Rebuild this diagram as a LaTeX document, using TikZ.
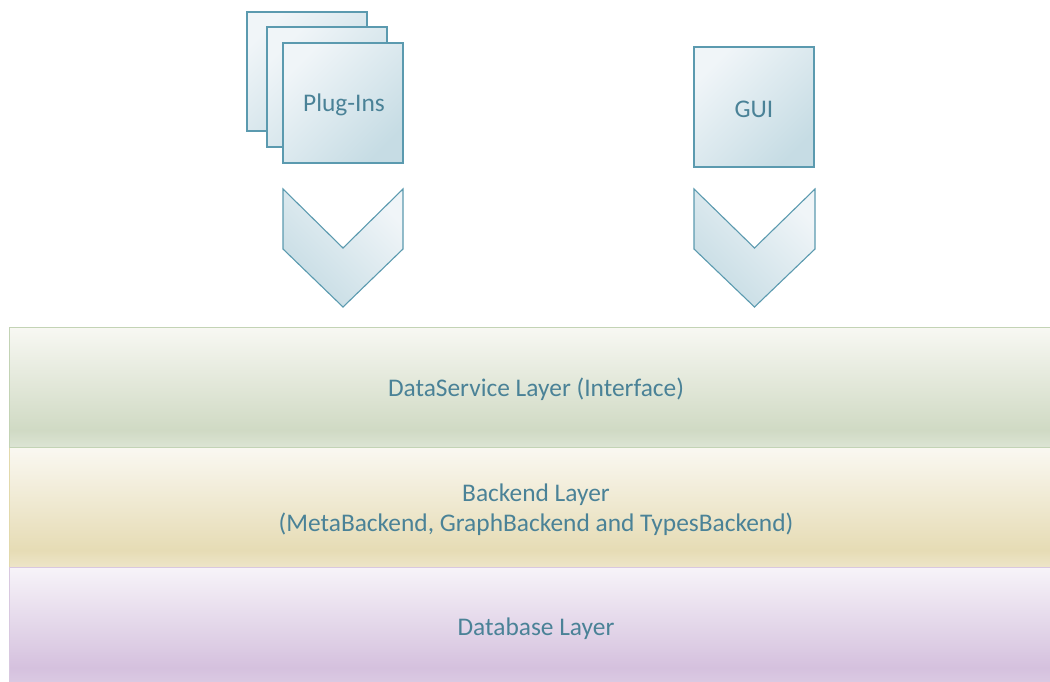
\documentclass[tikz,border=0pt]{standalone}
\usepackage{fontspec}
\setmainfont{Carlito}
\definecolor{edgeblue}{HTML}{5B9AAF}
\definecolor{boxlight}{HTML}{F0F5F8}
\definecolor{boxdark}{HTML}{C6DCE4}
\definecolor{txtblue}{HTML}{4A8297}
\definecolor{gA}{HTML}{F8F8F3}
\definecolor{gB}{HTML}{D0DAC4}
\definecolor{gC}{HTML}{DCE4D4}
\definecolor{gEdge}{HTML}{C3D3B5}
\definecolor{yA}{HTML}{FAF8F2}
\definecolor{yB}{HTML}{E6DCB5}
\definecolor{yC}{HTML}{EDE5C8}
\definecolor{yEdge}{HTML}{E2D9AC}
\definecolor{pA}{HTML}{F7F4F9}
\definecolor{pB}{HTML}{D5C1DE}
\definecolor{pC}{HTML}{DCCCE4}
\definecolor{pEdge}{HTML}{D8C8E0}
\pgfdeclareverticalshading{greenshade}{100bp}{color(0bp)=(gC); color(25bp)=(gC); color(32bp)=(gB); color(75bp)=(gA); color(100bp)=(gA)}
\pgfdeclareverticalshading{yellowshade}{100bp}{color(0bp)=(yC); color(25bp)=(yC); color(32bp)=(yB); color(75bp)=(yA); color(100bp)=(yA)}
\pgfdeclareverticalshading{purpleshade}{100bp}{color(0bp)=(pC); color(25bp)=(pC); color(33bp)=(pB); color(75bp)=(pA); color(100bp)=(pA)}
\tikzset{
  sq/.style={draw=edgeblue, line width=1.1pt, top color=boxlight, bottom color=boxdark, shading angle=45},
  chev/.style={draw=edgeblue, line width=1.1pt, top color=boxlight, bottom color=boxdark, shading angle=-45},
  lbl/.style={text=txtblue, font=\fontsize{25.4}{30}\selectfont, align=center},
  layer/.style={line width=1pt}
}
\begin{document}
\begin{tikzpicture}[x=1pt,y=-1pt]
\useasboundingbox (0,0) rectangle (1050,681);
% layers
\path[layer, draw=gEdge, shading=greenshade] (9,327) rectangle (1063,447);
\path[layer, draw=yEdge, shading=yellowshade] (9,447) rectangle (1063,567);
\path[layer, draw=pEdge, shading=purpleshade] (9,567) rectangle (1063,687);
\draw[gEdge, line width=1pt] (9,447) -- (1063,447);
\node[lbl] (ds) at (536,389) {DataService Layer (Interface)};
\node[lbl] (be) at (536,510) {Backend Layer\\(MetaBackend, GraphBackend and TypesBackend)};
\node[lbl] (db) at (536,629) {Database Layer};
% plug-ins stack
\path[sq] (247,12) rectangle (367,131);
\path[sq] (267,27) rectangle (387,147);
\path[sq] (283,43) rectangle (403,163);
\node[lbl] (pi) at (344,105) {Plug-Ins};
% GUI
\path[sq] (694,47) rectangle (814,167);
\node[lbl] (gui) at (754,109) {GUI};
% chevrons
\path[chev] (283,189) -- (343,248) -- (403,189) -- (403,249) -- (343,307) -- (283,249) -- cycle;
\path[chev] (694,189) -- (754.5,248) -- (815,189) -- (815,249) -- (754.5,307) -- (694,249) -- cycle;
\end{tikzpicture}
\end{document}
